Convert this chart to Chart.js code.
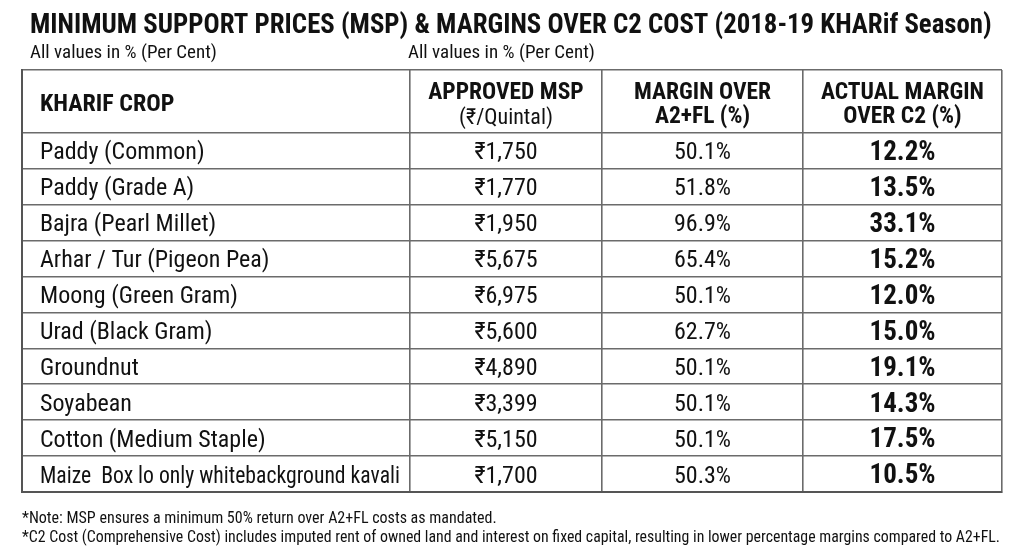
<!DOCTYPE html>
<html>
<head>
<meta charset="utf-8">
<title>MSP and margins over C2 cost, Kharif 2018-19</title>
<script src="https://cdn.jsdelivr.net/npm/chart.js@4.4.1/dist/chart.umd.min.js"></script>
<style>
  html, body { margin: 0; padding: 0; background: #fff; }
  #wrap { width: 1024px; height: 559px; position: relative; }
</style>
</head>
<body>
<div id="wrap"><canvas id="mspChart"></canvas></div>
<script>
// table data
var crops = ['Paddy (Common)', 'Paddy (Grade A)', 'Bajra (Pearl Millet)', 'Arhar / Tur (Pigeon Pea)',
  'Moong (Green Gram)', 'Urad (Black Gram)', 'Groundnut', 'Soyabean', 'Cotton (Medium Staple)',
  'Maize  Box lo only whitebackground kavali'];
var msp = [1750, 1770, 1950, 5675, 6975, 5600, 4890, 3399, 5150, 1700];
var marginA2FL = [50.1, 51.8, 96.9, 65.4, 50.1, 62.7, 50.1, 50.1, 50.1, 50.3];
var marginC2 = [12.2, 13.5, 33.1, 15.2, 12.0, 15.0, 19.1, 14.3, 17.5, 10.5];
var columnHeads = [['KHARIF CROP'], ['APPROVED MSP', '(₹/Quintal)'], ['MARGIN OVER', 'A2+FL (%)'], ['ACTUAL MARGIN', 'OVER C2 (%)']];

var titleText = 'MINIMUM SUPPORT PRICES (MSP) & MARGINS OVER C2 COST (2018-19 KHARif Season)';
var subText = 'All values in % (Per Cent)';
var notes = ['*Note: MSP ensures a minimum 50% return over A2+FL costs as mandated.',
  '*C2 Cost (Comprehensive Cost) includes imputed rent of owned land and interest on fixed capital, resulting in lower percentage margins compared to A2+FL.'];

// layout (x units ~ pixels across the table, y units = rows)
var colEdges = [0, 388, 580, 781, 980];
var headerRows = 1.75;
var FONT = '"Roboto Condensed", "Liberation Sans", sans-serif';
var INK = '#111';

function colMid(c) { return (colEdges[c] + colEdges[c + 1]) / 2; }

function column(values, x) {
  return values.map(function (v, i) { return { x: x, y: i + 0.5, label: v }; });
}

var datasets = [
  { data: column(crops, 18), align: 'left', font: '24px ' + FONT, maxWidth: colEdges[1] - 28 },
  { data: column(msp.map(function (v) { return '₹' + v.toLocaleString('en-IN'); }), colMid(1)), align: 'center', font: '24px ' + FONT },
  { data: column(marginA2FL.map(function (v) { return v.toFixed(1) + '%'; }), colMid(2)), align: 'center', font: '24px ' + FONT },
  { data: column(marginC2.map(function (v) { return v.toFixed(1) + '%'; }), colMid(3)), align: 'center', font: 'bold 27px ' + FONT, lift: 0.8 }
];
datasets.forEach(function (d) { d.pointRadius = 0; d.pointHoverRadius = 0; });

var tablePlugin = {
  id: 'tableText',
  afterDatasetsDraw: function (chart) {
    var ctx = chart.ctx;
    var xs = chart.scales.x, ys = chart.scales.y;
    ctx.save();
    ctx.fillStyle = INK;
    ctx.textBaseline = 'alphabetic';

    // cells
    chart.data.datasets.forEach(function (ds, di) {
      var meta = chart.getDatasetMeta(di);
      ctx.font = ds.font;
      ctx.textAlign = ds.align;
      meta.data.forEach(function (pt, i) {
        var y = pt.y + 8.5 + (ds.lift || 0);
        if (ds.maxWidth) ctx.fillText(ds.data[i].label, pt.x, y, ds.maxWidth);
        else ctx.fillText(ds.data[i].label, pt.x, y);
      });
    });

    // header row
    var top = ys.getPixelForValue(-headerRows);
    columnHeads.forEach(function (lines, c) {
      if (c === 0) {
        ctx.font = 'bold 24px ' + FONT;
        ctx.textAlign = 'left';
        ctx.fillText(lines[0], xs.getPixelForValue(18), top + 41);
        return;
      }
      var cx = xs.getPixelForValue(colMid(c));
      ctx.textAlign = 'center';
      ctx.font = 'bold 23.5px ' + FONT;
      ctx.fillText(lines[0], cx, top + 29);
      ctx.font = (c === 1 ? '22px ' : 'bold 23.5px ') + FONT;
      ctx.fillText(lines[1], cx, top + (c === 1 ? 54 : 53));
    });

    // title, subtitles, notes
    ctx.textAlign = 'left';
    ctx.font = 'bold 26.8px ' + FONT;
    ctx.fillText(titleText, 30, 33);
    ctx.font = '19px ' + FONT;
    ctx.fillText(subText, 30, 58);
    ctx.fillText(subText, 408, 58);
    ctx.font = '16px ' + FONT;
    ctx.fillText(notes[0], 22, 523);
    ctx.fillText(notes[1], 22, 541.5, 978);
    ctx.restore();
  }
};

function gridTicks(values) {
  return function (scale) { scale.ticks = values.map(function (v) { return { value: v }; }); };
}

var rowLines = [-headerRows];
for (var r = 0; r <= crops.length; r++) rowLines.push(r);

new Chart(document.getElementById('mspChart'), {
  type: 'scatter',
  data: { datasets: datasets },
  options: {
    responsive: true,
    maintainAspectRatio: false,
    animation: false,
    events: [],
    layout: { padding: { left: 22, right: 22, top: 70, bottom: 67 } },
    plugins: { legend: { display: false }, tooltip: { enabled: false }, title: { display: false } },
    scales: {
      x: {
        type: 'linear', min: colEdges[0], max: colEdges[colEdges.length - 1],
        afterBuildTicks: gridTicks(colEdges),
        ticks: { display: false },
        grid: { color: '#6b6b6b', lineWidth: 1.6, drawTicks: false },
        border: { display: true, color: '#555', width: 2 }
      },
      y: {
        type: 'linear', reverse: true, min: -headerRows, max: crops.length,
        afterBuildTicks: gridTicks(rowLines),
        ticks: { display: false },
        grid: { color: '#6b6b6b', lineWidth: 1.6, drawTicks: false },
        border: { display: true, color: '#555', width: 2 }
      }
    }
  },
  plugins: [tablePlugin]
});
</script>
</body>
</html>
